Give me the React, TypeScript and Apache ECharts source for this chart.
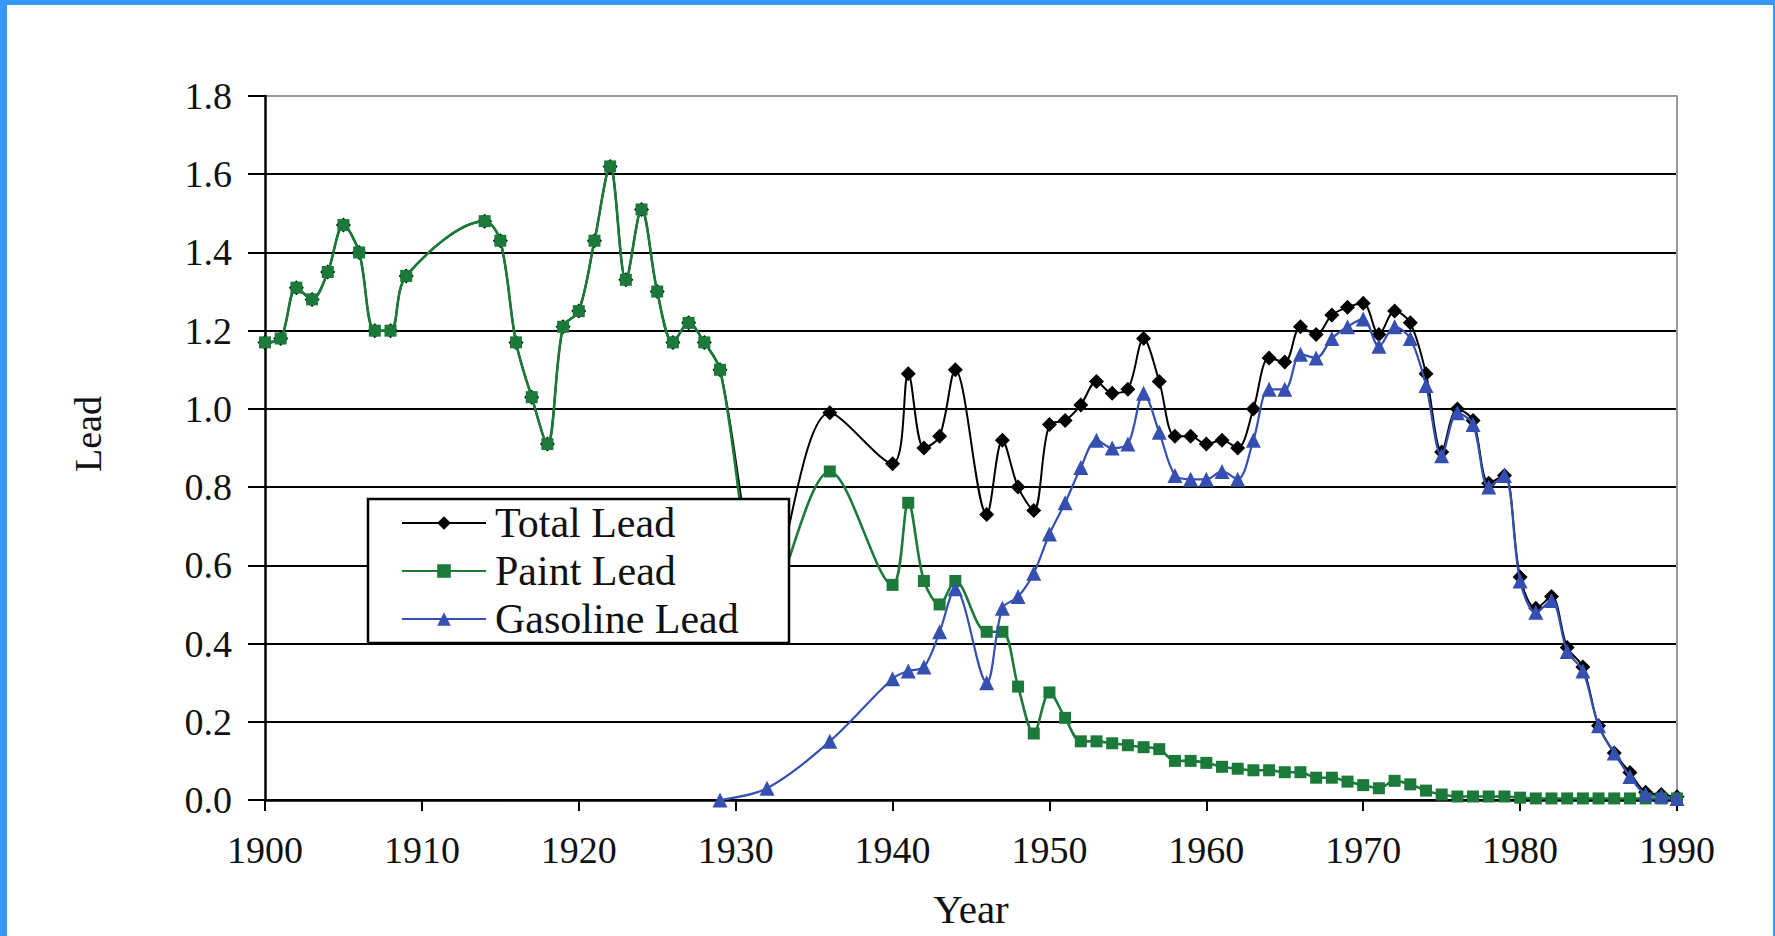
import React, { useEffect, useRef } from "react";
import * as echarts from "echarts";

const SERIF = "'Liberation Serif', 'Times New Roman', serif";

// Years shared by Total Lead and Paint Lead
const paintYears = [
  1900, 1901, 1902, 1903, 1904, 1905, 1906, 1907, 1908, 1909,
  1914, 1915, 1916, 1917, 1918, 1919, 1920, 1921, 1922, 1923, 1924, 1925, 1926, 1927, 1928, 1929,
  1932, 1936, 1940, 1941, 1942, 1943, 1944,
  1946, 1947, 1948, 1949, 1950, 1951, 1952, 1953, 1954, 1955, 1956, 1957, 1958, 1959,
  1960, 1961, 1962, 1963, 1964, 1965, 1966, 1967, 1968, 1969,
  1970, 1971, 1972, 1973, 1974, 1975, 1976, 1977, 1978, 1979,
  1980, 1981, 1982, 1983, 1984, 1985, 1986, 1987, 1988, 1989, 1990,
];
const paintValues = [
  1.17, 1.18, 1.31, 1.28, 1.35, 1.47, 1.4, 1.2, 1.2, 1.34,
  1.48, 1.43, 1.17, 1.03, 0.91, 1.21, 1.25, 1.43, 1.62, 1.33, 1.51, 1.3, 1.17, 1.22, 1.17, 1.1,
  0.49, 0.84, 0.55, 0.76, 0.56, 0.5, 0.56,
  0.43, 0.43, 0.29, 0.17, 0.275, 0.21, 0.15, 0.15, 0.145, 0.14, 0.135, 0.13, 0.1, 0.1,
  0.095, 0.085, 0.08, 0.076, 0.076, 0.071, 0.071, 0.057, 0.057, 0.047,
  0.038, 0.03, 0.049, 0.04, 0.024, 0.014, 0.009, 0.009, 0.009, 0.009,
  0.006, 0.004, 0.004, 0.004, 0.004, 0.004, 0.004, 0.004, 0.004, 0.004, 0.004,
];
const totalYears = paintYears;
const totalValues = [
  1.17, 1.18, 1.31, 1.28, 1.35, 1.47, 1.4, 1.2, 1.2, 1.34,
  1.48, 1.43, 1.17, 1.03, 0.91, 1.21, 1.25, 1.43, 1.62, 1.33, 1.51, 1.3, 1.17, 1.22, 1.17, 1.1,
  0.52, 0.99, 0.86, 1.09, 0.9, 0.93, 1.1,
  0.73, 0.92, 0.8, 0.74, 0.96, 0.97, 1.01, 1.07, 1.04, 1.05, 1.18, 1.07, 0.93, 0.93,
  0.91, 0.92, 0.9, 1.0, 1.13, 1.12, 1.21, 1.19, 1.24, 1.26,
  1.27, 1.19, 1.25, 1.22, 1.09, 0.89, 1.0, 0.97, 0.81, 0.83,
  0.57, 0.49, 0.52, 0.39, 0.34, 0.19, 0.12, 0.07, 0.02, 0.014, 0.008,
];
const gasYears = [
  1929, 1932, 1936, 1940, 1941, 1942, 1943, 1944,
  1946, 1947, 1948, 1949, 1950, 1951, 1952, 1953, 1954, 1955, 1956, 1957, 1958, 1959,
  1960, 1961, 1962, 1963, 1964, 1965, 1966, 1967, 1968, 1969,
  1970, 1971, 1972, 1973, 1974, 1975, 1976, 1977, 1978, 1979,
  1980, 1981, 1982, 1983, 1984, 1985, 1986, 1987, 1988, 1989, 1990,
];
const gasValues = [
  0.0, 0.03, 0.15, 0.31, 0.33, 0.34, 0.43, 0.54,
  0.3, 0.49, 0.52, 0.58, 0.68, 0.76, 0.85, 0.92, 0.9, 0.91, 1.04, 0.94, 0.83, 0.82,
  0.82, 0.84, 0.82, 0.92, 1.05, 1.05, 1.14, 1.13, 1.18, 1.21,
  1.23, 1.16, 1.21, 1.18, 1.06, 0.88, 0.99, 0.96, 0.8, 0.83,
  0.56, 0.48, 0.51, 0.38, 0.33, 0.19, 0.12, 0.06, 0.015, 0.01, 0.004,
];
const seriesNames = ["Total Lead", "Paint Lead", "Gasoline Lead"];

const BLACK = "#000000";
const GREEN = "#1b7a3a";
const BLUE = "#3550b0";
const BORDER_BLUE = "#3797fb";

export default function App() {
  const ref = useRef<HTMLDivElement>(null);

  useEffect(() => {
    if (!ref.current) return;
    const chart = echarts.init(ref.current, null, { renderer: "svg" });
    const pair = (ys: number[], vs: number[]) => ys.map((y, i) => [y, vs[i]]);
    const splitColors = ["#000", "#000", "#000", "#000", "#000", "#000", "#000", "#000", "#000", "#9a9a9a"];

    chart.setOption({
      animation: false,
      backgroundColor: "#ffffff",
      grid: { left: 265, top: 96, width: 1412, height: 704, containLabel: false },
      xAxis: {
        type: "value",
        min: 1900,
        max: 1990,
        interval: 10,
        name: "Year",
        nameLocation: "middle",
        nameGap: 88,
        nameTextStyle: { fontFamily: SERIF, fontSize: 41, color: "#111" },
        axisLine: { show: true, onZero: false, lineStyle: { color: "#000", width: 2.5 } },
        axisTick: { show: true, length: 11, lineStyle: { color: "#000", width: 2 } },
        axisLabel: {
          margin: 31,
          fontFamily: SERIF,
          fontSize: 38,
          color: "#111",
          formatter: (v: number) => String(v),
        },
        splitLine: { show: false },
      },
      yAxis: [
        {
          type: "value",
          min: 0,
          max: 1.8,
          interval: 0.2,
          axisLine: { show: true, onZero: false, lineStyle: { color: "#000", width: 2.5 } },
          axisTick: { show: true, length: 17, lineStyle: { color: "#000", width: 2 } },
          axisLabel: {
            margin: 33,
            fontFamily: SERIF,
            fontSize: 38,
            color: "#111",
            formatter: (v: number) => v.toFixed(1),
          },
          splitLine: { show: true, lineStyle: { color: splitColors, width: 2 } },
        },
        {
          type: "value",
          position: "right",
          min: 0,
          max: 1.8,
          interval: 0.2,
          axisLine: { show: true, onZero: false, lineStyle: { color: "#9a9a9a", width: 2 } },
          axisTick: { show: false },
          axisLabel: { show: false },
          splitLine: { show: false },
        },
      ],
      legend: {
        orient: "vertical",
        left: 401,
        top: 499,
        padding: 0,
        itemGap: 0,
        itemWidth: 84,
        itemHeight: 17,
        z: 10,
        data: seriesNames,
        textStyle: {
          fontFamily: SERIF,
          fontSize: 42,
          lineHeight: 48,
          color: "#111",
          padding: [0, 0, 0, 4],
        },
      },
      graphic: [
        { type: "rect", z: 100, shape: { x: 0, y: 0, width: 1775, height: 5 }, style: { fill: BORDER_BLUE } },
        { type: "rect", z: 100, shape: { x: 0, y: 0, width: 7, height: 936 }, style: { fill: BORDER_BLUE } },
        { type: "rect", z: 100, shape: { x: 1773, y: 0, width: 2, height: 936 }, style: { fill: BORDER_BLUE } },
        {
          type: "rect",
          z: 9,
          shape: { x: 368, y: 499, width: 421, height: 144 },
          style: { fill: "#ffffff", stroke: "#000", lineWidth: 2.5 },
        },
        {
          type: "text",
          z: 10,
          x: 88,
          y: 434,
          rotation: Math.PI / 2,
          style: {
            text: "Lead",
            fontFamily: SERIF,
            fontSize: 38,
            fill: "#111",
            align: "center",
            verticalAlign: "middle",
          },
        },
      ],
      series: [
        {
          name: "Total Lead",
          type: "line",
          data: pair(totalYears, totalValues),
          smooth: 0.33,
          symbol: "diamond",
          symbolSize: 15,
          showAllSymbol: true,
          itemStyle: { color: BLACK },
          lineStyle: { color: BLACK, width: 2 },
          z: 2,
        },
        {
          name: "Paint Lead",
          type: "line",
          data: pair(paintYears, paintValues),
          smooth: 0.33,
          symbol: "rect",
          symbolSize: 12,
          showAllSymbol: true,
          itemStyle: { color: GREEN },
          lineStyle: { color: GREEN, width: 2.6 },
          z: 3,
        },
        {
          name: "Gasoline Lead",
          type: "line",
          data: pair(gasYears, gasValues),
          smooth: 0.33,
          symbol: "triangle",
          symbolSize: 15,
          showAllSymbol: true,
          itemStyle: { color: BLUE },
          lineStyle: { color: BLUE, width: 2.2 },
          z: 4,
        },
      ],
    });

    return () => {
      chart.dispose();
    };
  }, []);

  return (
    <div
      ref={ref}
      style={{ position: "absolute", left: 0, top: 0, width: 1775, height: 936, background: "#fff" }}
    />
  );
}
